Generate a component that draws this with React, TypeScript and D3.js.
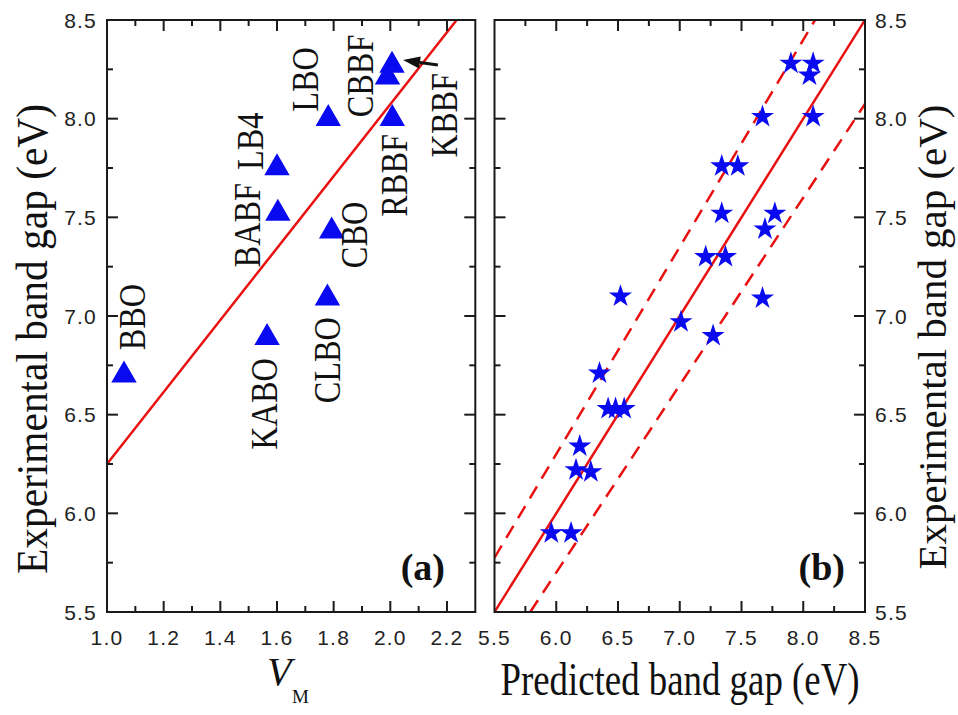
import React from "react";
import * as d3 from "d3";

// ---- Panel (a): band gap vs V_M ----
const crystalNames = ["BBO", "KABO", "CLBO", "CBO", "BABF", "LB4", "LBO", "RBBF", "CBBF", "KBBF"];
const vmValues = [1.06, 1.565, 1.778, 1.793, 1.603, 1.6, 1.781, 2.007, 1.99, 2.006];
const gapValues = [6.7, 6.89, 7.09, 7.43, 7.52, 7.75, 8.0, 8.0, 8.21, 8.27];
// linear fit: gap = fitIntercept + fitSlope * V_M
const fitIntercept = 4.427;
const fitSlope = 1.823;

// ---- Panel (b): predicted vs experimental ----
const predictedGap = [7.9, 8.08, 8.05, 7.67, 8.08, 7.34, 7.47, 7.34, 7.77, 7.69, 7.21, 7.37, 6.52, 7.67, 7.01, 7.27, 6.35, 6.42, 6.48, 6.55, 6.19, 6.16, 6.28, 5.96, 6.12];
const experimentalGap = [8.28, 8.28, 8.22, 8.01, 8.01, 7.76, 7.76, 7.52, 7.52, 7.44, 7.3, 7.3, 7.1, 7.09, 6.97, 6.9, 6.71, 6.53, 6.53, 6.53, 6.34, 6.22, 6.21, 5.9, 5.9];
const bandFraction = 0.05; // ±5% guide lines

// ---- Tick labels ----
const vmTicks = [1.0, 1.2, 1.4, 1.6, 1.8, 2.0, 2.2];
const gapTicks = [5.5, 6.0, 6.5, 7.0, 7.5, 8.0, 8.5];

// arrow pointing to KBBF (data coordinates of panel a)
const arrowTail = [2.168, 8.272];
const arrowTip = [2.045, 8.297];

// label offsets (pixels) from each triangle to the start of its vertical label
const labelOffsets: Record<string, [number, number]> = {
  BBO: [21, -25],
  KABO: [10, 112],
  CLBO: [12.6, 105],
  CBO: [35, 37],
  BABF: [-18, 54],
  LB4: [-14, 2],
  LBO: [-10, -7],
  RBBF: [15, 98],
  CBBF: [-14.5, 40],
  KBBF: [65, 92],
};

const W = 958;
const H = 715;
const TOP = 20;
const BOTTOM = 612;
const A_LEFT = 107;
const A_RIGHT = 475.3;
const B_LEFT = 494.5;
const B_RIGHT = 865;

const RED = "#e81010";
const BLUE = "#0a0af0";
const FRAME = "#1a1a1a";
const SANS = "'Liberation Sans', Arial, sans-serif";
const SERIF = "'Liberation Serif', 'Times New Roman', serif";

const xA = d3.scaleLinear().domain([1.0, 2.3]).range([A_LEFT, A_RIGHT]);
const xB = d3.scaleLinear().domain([5.5, 8.5]).range([B_LEFT, B_RIGHT]);
const yS = d3.scaleLinear().domain([5.5, 8.5]).range([BOTTOM, TOP]);

const MAJOR = 11;
const MINOR = 6;

function Frame({ x0, x1, xMajor, xMinor, xs }: { x0: number; x1: number; xMajor: number[]; xMinor: number[]; xs: d3.ScaleLinear<number, number> }) {
  const yMajor = gapTicks;
  const yMinor = d3.range(5.75, 8.5, 0.5);
  const lines: JSX.Element[] = [];
  const add = (k: string, a: number, b: number, c: number, d: number) =>
    lines.push(<line key={k} x1={a} y1={b} x2={c} y2={d} stroke={FRAME} strokeWidth={2} />);
  xMajor.forEach((v, i) => {
    add(`xb${i}`, xs(v), BOTTOM, xs(v), BOTTOM - MAJOR);
    add(`xt${i}`, xs(v), TOP, xs(v), TOP + MAJOR);
  });
  xMinor.forEach((v, i) => {
    add(`xbm${i}`, xs(v), BOTTOM, xs(v), BOTTOM - MINOR);
    add(`xtm${i}`, xs(v), TOP, xs(v), TOP + MINOR);
  });
  yMajor.forEach((v, i) => {
    add(`yl${i}`, x0, yS(v), x0 + MAJOR, yS(v));
    add(`yr${i}`, x1, yS(v), x1 - MAJOR, yS(v));
  });
  yMinor.forEach((v, i) => {
    add(`ylm${i}`, x0, yS(v), x0 + MINOR, yS(v));
    add(`yrm${i}`, x1, yS(v), x1 - MINOR, yS(v));
  });
  return (
    <g>
      {lines}
      <rect x={x0} y={TOP} width={x1 - x0} height={BOTTOM - TOP} fill="none" stroke={FRAME} strokeWidth={2} />
    </g>
  );
}

const tickText = { fontFamily: SANS, fontSize: 21, letterSpacing: 1.2, fill: "#222" } as const;

export default function App() {
  const tri = d3.symbol().type(d3.symbolTriangle).size(280)()!;
  const star = d3.symbol().type(d3.symbolStar).size(165)()!;

  // fitted line of panel (a), from V_M = 1.0 up to where it meets the top
  const fitEnd = (8.5 - fitIntercept) / fitSlope;
  const fitLine = d3.line<number>()
    .x((v) => xA(v))
    .y((v) => yS(fitIntercept + fitSlope * v))([1.0, fitEnd])!;

  const diag = d3.line<number>().x((v) => xB(v)).y((v) => yS(v))([5.5, 8.5])!;
  const upper = d3.line<number>()
    .x((v) => xB(v))
    .y((v) => yS(v * (1 + bandFraction)))([5.5, 8.5 / (1 + bandFraction)])!;
  const lower = d3.line<number>()
    .x((v) => xB(v))
    .y((v) => yS(v * (1 - bandFraction)))([5.5 / (1 - bandFraction), 8.5])!;

  const minorA = d3.range(1.1, 2.3, 0.2);
  const majorB = [6.0, 6.5, 7.0, 7.5, 8.0];
  const minorB = d3.range(5.75, 8.5, 0.5);

  // arrow geometry
  const tx = xA(arrowTail[0]), ty = yS(arrowTail[1]);
  const hx = xA(arrowTip[0]), hy = yS(arrowTip[1]);
  const len = Math.hypot(tx - hx, ty - hy);
  const ux = (tx - hx) / len, uy = (ty - hy) / len;
  const headLen = 17, headHalf = 6;
  const bx = hx + ux * headLen, by = hy + uy * headLen;
  const head = `M${hx},${hy}L${bx - uy * headHalf},${by + ux * headHalf}L${bx + uy * headHalf},${by - ux * headHalf}Z`;

  return (
    <svg width={W} height={H} style={{ position: "absolute", left: 0, top: 0, background: "#fff" }}>
      <defs>
        <clipPath id="clipB">
          <rect x={B_LEFT} y={TOP} width={B_RIGHT - B_LEFT} height={BOTTOM - TOP} />
        </clipPath>
      </defs>
      <rect width={W} height={H} fill="#fff" />

      {/* ---------- panel (a) ---------- */}
      <path d={fitLine} stroke={RED} strokeWidth={2.5} fill="none" />
      {crystalNames.map((name, i) => (
        <path key={name} d={tri} transform={`translate(${xA(vmValues[i])},${yS(gapValues[i])})`} fill={BLUE} />
      ))}
      {crystalNames.map((name, i) => {
        const [dx, dy] = labelOffsets[name];
        return (
          <text
            key={`lbl-${name}`}
            transform={`translate(${xA(vmValues[i]) + dx},${yS(gapValues[i]) + dy}) rotate(-90) scale(0.85,1)`}
            fontFamily={SERIF}
            fontSize={38}
            fill="#111"
          >
            {name}
          </text>
        );
      })}
      <line x1={tx} y1={ty} x2={bx} y2={by} stroke="#111" strokeWidth={3} />
      <path d={head} fill="#111" />
      <Frame x0={A_LEFT} x1={A_RIGHT} xMajor={vmTicks} xMinor={minorA} xs={xA} />
      <text x={445} y={580} textAnchor="end" fontFamily={SERIF} fontWeight="bold" fontSize={38} fill="#111">(a)</text>

      {vmTicks.map((v) => (
        <text key={`vt${v}`} x={xA(v)} y={645} textAnchor="middle" {...tickText}>{v.toFixed(1)}</text>
      ))}
      {gapTicks.map((v) => (
        <text key={`ga${v}`} x={97} y={yS(v) + 7.5} textAnchor="end" {...tickText}>{v.toFixed(1)}</text>
      ))}
      <text transform={`translate(47,339) rotate(-90)`} textAnchor="middle" fontFamily={SERIF} fontSize={44} textLength={470} lengthAdjust="spacingAndGlyphs" fill="#111">
        Experimental band gap (eV)
      </text>
      <text x={267} y={685} fontFamily={SERIF} fontStyle="italic" fontSize={40} fill="#111">V</text>
      <text x={292} y={703} fontFamily={SERIF} fontSize={19} fill="#111">M</text>

      {/* ---------- panel (b) ---------- */}
      <g clipPath="url(#clipB)">
        <path d={diag} stroke={RED} strokeWidth={2.5} fill="none" />
        <path d={upper} stroke={RED} strokeWidth={2.5} fill="none" strokeDasharray="14,9" />
        <path d={lower} stroke={RED} strokeWidth={2.5} fill="none" strokeDasharray="14,9" />
      </g>
      {predictedGap.map((p, i) => (
        <path key={`s${i}`} d={star} transform={`translate(${xB(p)},${yS(experimentalGap[i])})`} fill={BLUE} />
      ))}
      <Frame x0={B_LEFT} x1={B_RIGHT} xMajor={majorB} xMinor={minorB} xs={xB} />
      <text x={845} y={580} textAnchor="end" fontFamily={SERIF} fontWeight="bold" fontSize={38} fill="#111">(b)</text>

      {gapTicks.map((v) => (
        <text key={`bt${v}`} x={xB(v)} y={645} textAnchor="middle" {...tickText}>{v.toFixed(1)}</text>
      ))}
      {gapTicks.map((v) => (
        <text key={`gb${v}`} x={875} y={yS(v) + 7.5} textAnchor="start" {...tickText}>{v.toFixed(1)}</text>
      ))}
      <text transform={`translate(946,337) rotate(-90)`} textAnchor="middle" fontFamily={SERIF} fontSize={41} textLength={465} lengthAdjust="spacingAndGlyphs" fill="#111">
        Experimental band gap (eV)
      </text>
      <text x={680} y={695} textAnchor="middle" fontFamily={SERIF} fontSize={46} textLength={359} lengthAdjust="spacingAndGlyphs" fill="#111">
        Predicted band gap (eV)
      </text>
    </svg>
  );
}
